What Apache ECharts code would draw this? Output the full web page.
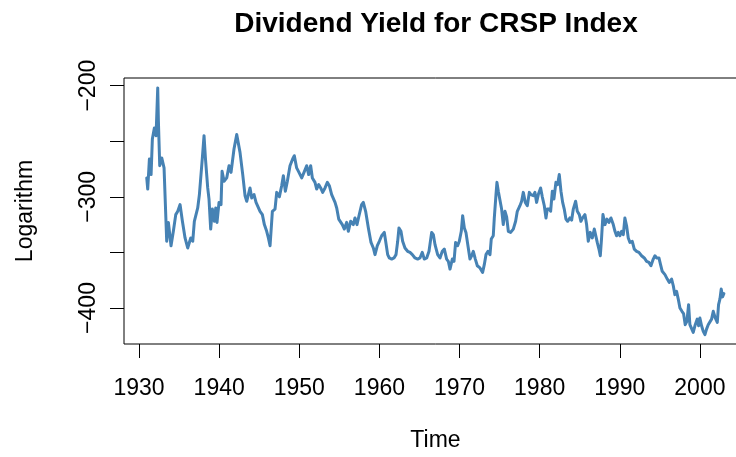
<!DOCTYPE html>
<html>
<head>
<meta charset="utf-8">
<title>Dividend Yield for CRSP Index</title>
<script src="https://cdn.jsdelivr.net/npm/echarts@6/dist/echarts.min.js"></script>
<style>
  html, body { margin: 0; padding: 0; background: #fff; overflow: hidden; width: 736px; height: 457px; }
  /* the plot box runs past the right edge of the window, so the canvas is wider */
  #chart { width: 760px; height: 457px; }
</style>
</head>
<body>
<div id="chart"></div>
<script>
// Time of each observation (decimal years)
const years = [
  1930.96, 1931.08, 1931.29, 1931.50, 1931.66, 1931.91, 1932.12, 1932.33, 1932.41, 1932.58,
  1932.83, 1933.12, 1933.45, 1933.66, 1933.99, 1934.28, 1934.58, 1934.83, 1935.12, 1935.41,
  1935.74, 1936.07, 1936.45, 1936.70, 1936.90, 1937.32, 1937.53, 1937.90, 1938.11, 1938.28,
  1938.57, 1938.73, 1938.94, 1939.15, 1939.40, 1939.57, 1939.73, 1939.98, 1940.23, 1940.36,
  1940.61, 1940.94, 1941.23, 1941.48, 1941.85, 1942.19, 1942.60, 1942.94, 1943.23, 1943.44,
  1943.85, 1944.06, 1944.35, 1944.60, 1945.10, 1945.39, 1945.64, 1945.93, 1946.14, 1946.35,
  1946.64, 1946.97, 1947.18, 1947.51, 1947.80, 1948.01, 1948.26, 1948.51, 1948.84, 1949.17,
  1949.38, 1949.67, 1949.96, 1950.30, 1950.59, 1950.92, 1951.17, 1951.42, 1951.63, 1951.96,
  1952.17, 1952.42, 1952.67, 1952.92, 1953.21, 1953.50, 1953.75, 1954.04, 1954.46, 1954.67,
  1954.92, 1955.37, 1955.62, 1955.91, 1956.12, 1956.41, 1956.74, 1956.95, 1957.20, 1957.45,
  1957.78, 1957.99, 1958.28, 1958.62, 1958.95, 1959.24, 1959.45, 1959.74, 1959.99, 1960.28,
  1960.61, 1960.78, 1961.03, 1961.24, 1961.53, 1961.82, 1962.07, 1962.28, 1962.44, 1962.69,
  1962.90, 1963.19, 1963.52, 1963.82, 1964.11, 1964.44, 1964.77, 1965.06, 1965.35, 1965.60,
  1965.90, 1966.19, 1966.52, 1966.73, 1966.94, 1967.27, 1967.56, 1967.85, 1968.10, 1968.39,
  1968.60, 1968.81, 1969.10, 1969.31, 1969.51, 1969.76, 1969.97, 1970.22, 1970.39, 1970.60,
  1970.80, 1971.05, 1971.30, 1971.51, 1971.72, 1971.97, 1972.22, 1972.55, 1972.88, 1973.09,
  1973.30, 1973.55, 1973.80, 1973.96, 1974.21, 1974.34, 1974.55, 1974.67, 1974.84, 1975.05,
  1975.25, 1975.46, 1975.67, 1975.88, 1976.09, 1976.38, 1976.71, 1977.00, 1977.21, 1977.54,
  1977.75, 1977.96, 1978.21, 1978.46, 1978.71, 1978.91, 1979.21, 1979.41, 1979.62, 1979.83,
  1980.12, 1980.33, 1980.58, 1980.79, 1980.95, 1981.20, 1981.37, 1981.58, 1981.78, 1982.03,
  1982.24, 1982.45, 1982.66, 1982.87, 1983.07, 1983.28, 1983.49, 1983.78, 1983.99, 1984.20,
  1984.49, 1984.70, 1984.95, 1985.15, 1985.36, 1985.65, 1985.86, 1986.07, 1986.32, 1986.57,
  1986.82, 1986.98, 1987.19, 1987.40, 1987.57, 1987.73, 1987.90, 1988.15, 1988.40, 1988.65,
  1988.90, 1989.19, 1989.40, 1989.60, 1989.81, 1990.02, 1990.23, 1990.44, 1990.64, 1990.85,
  1991.06, 1991.27, 1991.56, 1991.81, 1992.10, 1992.39, 1992.72, 1993.06, 1993.35, 1993.64,
  1993.89, 1994.18, 1994.39, 1994.60, 1994.89, 1995.09, 1995.30, 1995.64, 1995.93, 1996.18,
  1996.47, 1996.68, 1996.88, 1997.09, 1997.30, 1997.51, 1997.76, 1997.96, 1998.17, 1998.38,
  1998.59, 1998.75, 1998.96, 1999.17, 1999.42, 1999.67, 1999.84, 2000.00, 2000.21, 2000.42,
  2000.63, 2000.83, 2001.04, 2001.25, 2001.46, 2001.67, 2001.92, 2002.17, 2002.33, 2002.50,
  2002.66, 2002.83, 2003.00
];

// Log dividend yield (scaled by 100)
const logYield = [
  -283, -293, -266, -280, -248, -238, -245, -202, -231, -272,
  -265, -274, -340, -323, -344, -331, -316, -313, -307, -322,
  -337, -346, -337, -340, -322, -310, -298, -265, -245, -265,
  -292, -302, -329, -311, -322, -310, -323, -305, -307, -277,
  -286, -283, -272, -278, -257, -244, -260, -280, -299, -304,
  -292, -301, -298, -305, -313, -316, -325, -331, -337, -344,
  -313, -311, -296, -300, -290, -281, -295, -286, -272, -266,
  -263, -274, -278, -283, -278, -272, -280, -272, -283, -287,
  -293, -289, -292, -296, -292, -287, -290, -298, -305, -310,
  -320, -325, -329, -323, -331, -322, -325, -319, -325, -317,
  -307, -305, -313, -328, -341, -346, -352, -344, -340, -335,
  -332, -340, -352, -355, -356, -355, -352, -340, -328, -331,
  -340, -346, -349, -350, -352, -355, -356, -355, -350, -356,
  -355, -349, -332, -334, -343, -352, -355, -349, -347, -356,
  -358, -365, -356, -358, -341, -344, -340, -331, -317, -328,
  -332, -344, -356, -353, -349, -356, -362, -364, -368, -361,
  -352, -349, -352, -338, -335, -319, -298, -287, -295, -296,
  -311, -325, -313, -318, -331, -332, -329, -322, -313, -308,
  -304, -296, -305, -308, -296, -298, -299, -296, -305, -298,
  -292, -300, -308, -319, -311, -311, -313, -295, -302, -287,
  -289, -280, -295, -305, -311, -320, -322, -319, -321, -311,
  -304, -313, -316, -322, -319, -316, -325, -340, -332, -337,
  -329, -328, -341, -347, -353, -337, -316, -325, -320, -323,
  -319, -325, -331, -335, -332, -335, -331, -334, -319, -326,
  -337, -341, -340, -347, -349, -350, -353, -355, -358, -359,
  -362, -356, -353, -355, -355, -361, -367, -370, -374, -377,
  -374, -380, -388, -385, -392, -400, -403, -405, -415, -412,
  -397, -415, -416, -422, -415, -410, -416, -409, -416, -421,
  -424, -419, -415, -416, -410, -403, -409, -413, -397, -392,
  -383, -390, -387
];

// Axis tick positions
const xTicks = [1930, 1940, 1950, 1960, 1970, 1980, 1990, 2000];
const yTicks = [-400, -350, -300, -250, -200];
const yLabelled = [-400, -300, -200];

const FONT = '"Liberation Sans", Arial, Helvetica, sans-serif';
const chart = echarts.init(document.getElementById('chart'), null, { renderer: 'canvas' });

chart.setOption({
  animation: false,
  backgroundColor: '#ffffff',
  title: {
    text: 'Dividend Yield for CRSP Index',
    left: 431,
    textAlign: 'center',
    top: 5,
    textStyle: { fontFamily: FONT, fontSize: 28, fontWeight: 'bold', color: '#000' }
  },
  grid: {
    left: 124,
    top: 78,
    width: 623,
    height: 266,
    show: true,
    borderColor: '#000',
    borderWidth: 1,
    backgroundColor: 'transparent'
  },
  xAxis: {
    type: 'value',
    min: 1928.12,
    max: 2005.88,
    name: 'Time',
    nameLocation: 'middle',
    nameGap: 85,
    nameTextStyle: { fontFamily: FONT, fontSize: 23, color: '#000' },
    axisLine: { show: false },
    splitLine: { show: false },
    axisTick: {
      show: true, length: 14, inside: false,
      customValues: xTicks,
      lineStyle: { color: '#000', width: 1 }
    },
    axisLabel: {
      show: true, margin: 33,
      customValues: xTicks,
      fontFamily: FONT, fontSize: 23, color: '#000',
      formatter: v => String(v)
    }
  },
  yAxis: {
    type: 'value',
    min: -432.4,
    max: -193.1,
    name: 'Logarithm',
    nameLocation: 'middle',
    nameGap: 87,
    nameTextStyle: { fontFamily: FONT, fontSize: 23, color: '#000' },
    axisLine: { show: false },
    splitLine: { show: false },
    axisTick: {
      show: true, length: 14, inside: false,
      customValues: yTicks,
      lineStyle: { color: '#000', width: 1 }
    },
    axisLabel: {
      show: true, margin: 24, rotate: 90,
      customValues: yLabelled,
      fontFamily: FONT, fontSize: 23, color: '#000',
      formatter: v => String(v).replace('-', '\u2212')
    }
  },
  series: [{
    type: 'line',
    data: years.map((t, i) => [t, logYield[i]]),
    showSymbol: false,
    symbol: 'none',
    smooth: false,
    clip: true,
    lineStyle: { color: '#4682B4', width: 3, join: 'round', cap: 'round' }
  }]
});
</script>
</body>
</html>
